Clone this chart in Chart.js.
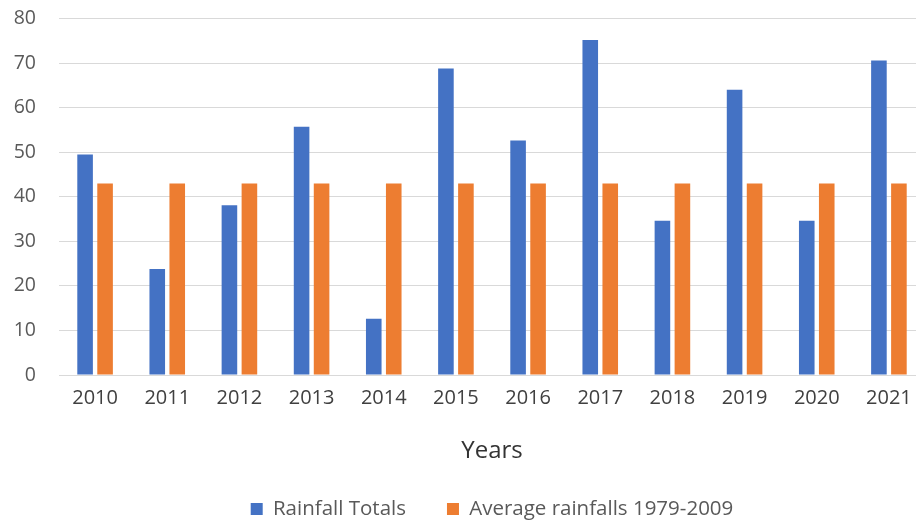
<!DOCTYPE html>
<html>
<head>
<meta charset="utf-8">
<script src="https://cdn.jsdelivr.net/npm/chart.js@4.4.1/dist/chart.umd.min.js"></script>
<style>
  html, body { margin: 0; padding: 0; background: #ffffff; overflow: hidden; }
  #wrap { width: 916px; height: 523px; overflow: hidden; position: relative; }
  #c { position: absolute; left: 0; top: 0; }
</style>
</head>
<body>
<div id="wrap"><canvas id="c" width="925" height="523"></canvas></div>
<script>
const categories = ['2010','2011','2012','2013','2014','2015','2016','2017','2018','2019','2020','2021'];
const rainfallTotals = [49.5, 23.8, 38.1, 55.7, 12.6, 68.8, 52.6, 75.2, 34.6, 64.0, 34.6, 70.6];
const averageRainfall = [43, 43, 43, 43, 43, 43, 43, 43, 43, 43, 43, 43];
const seriesNames = ['Rainfall Totals', 'Average rainfalls 1979-2009'];
const yTicks = [0, 10, 20, 30, 40, 50, 60, 70, 80];
const xTitle = 'Years';

const FONT = '"Open Sans", Lato, "DejaVu Sans", sans-serif';

new Chart(document.getElementById('c'), {
  type: 'bar',
  data: {
    labels: categories,
    datasets: [
      { label: seriesNames[0], data: rainfallTotals, backgroundColor: '#4472C4',
        categoryPercentage: 0.554, barPercentage: 0.78 },
      { label: seriesNames[1], data: averageRainfall, backgroundColor: '#ED7D31',
        categoryPercentage: 0.554, barPercentage: 0.78 }
    ]
  },
  options: {
    responsive: false,
    animation: false,
    devicePixelRatio: 1,
    layout: { padding: { top: 18.5, right: 0, bottom: 0, left: 0 } },
    plugins: {
      tooltip: { enabled: false },
      legend: {
        position: 'bottom',
        fullSize: false,
        maxHeight: 65.25,
        labels: {
          boxWidth: 12,
          boxHeight: 12,
          padding: 41,
          color: '#595959',
          font: { family: FONT, size: 20.5 }
        }
      }
    },
    scales: {
      x: {
        grid: { display: false, drawTicks: false },
        border: { display: false },
        ticks: { color: '#404040', padding: 11.5, font: { family: FONT, size: 20 } },
        title: {
          display: true, text: xTitle, color: '#333333',
          font: { family: FONT, size: 24, lineHeight: 1 },
          padding: { top: 0, bottom: -5.25 }
        },
        afterFit: (s) => { s.height = 82.75; s.paddingLeft = 0; s.paddingRight = 0; }
      },
      y: {
        min: 0, max: 80,
        afterBuildTicks: (s) => { s.ticks = yTicks.map(v => ({ value: v })); },
        grid: { color: '#d9d9d9', lineWidth: 1, drawTicks: false },
        border: { display: false },
        ticks: { color: '#595959', padding: 23, font: { family: FONT, size: 19.5 } },
        afterFit: (s) => { s.width = 59; s.paddingTop = 0; s.paddingBottom = 0; }
      }
    }
  }
});
</script>
</body>
</html>
